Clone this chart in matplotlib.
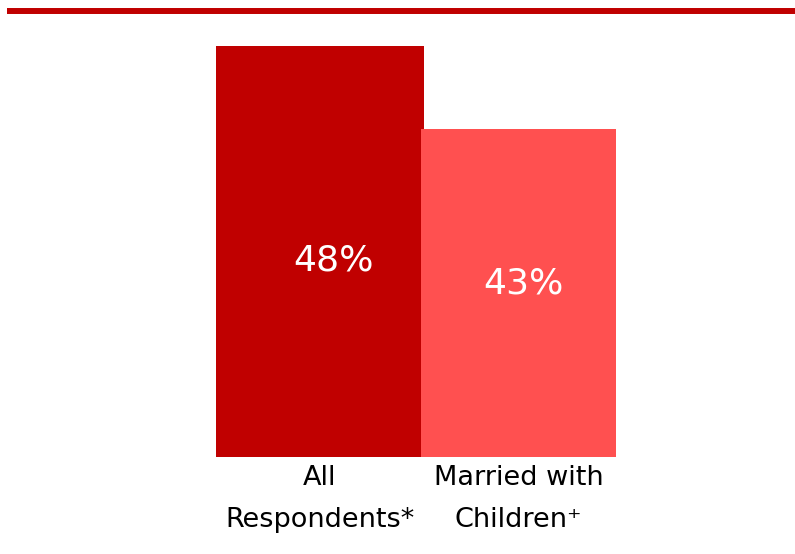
import matplotlib
matplotlib.use("Agg")
import matplotlib.pyplot as plt
from matplotlib.lines import Line2D

categories = ["All\nRespondents*", "Married with\nChildren\u207a"]
values = [48, 43]
value_labels = ["48%", "43%"]

bar_colors = ["#C00000", "#FF5050"]
bar_widths = [1.048, 0.982]
label_shift = [(13, 8.5), (5, -9)]   # (right, down) pixel nudges of the value labels

W, H = 795, 554
fig = plt.figure(figsize=(W / 100, H / 100), dpi=100)
fig.patch.set_facecolor("white")

# axes: baseline at y=457 px, top of tallest bar at y=46 px
base = 23.24
ax = fig.add_axes([216 / W, (H - 457) / H, (616 - 216) / W, (457 - 46) / H])
ax.set_xlim(-0.524, 1.491)
ax.set_ylim(base, 48)
ax.axis("off")

xs = list(range(len(values)))
for x, v, c, w in zip(xs, values, bar_colors, bar_widths):
    ax.bar(x, v - base, bottom=base, width=w, color=c, linewidth=0, zorder=2 + x)

font = dict(family="DejaVu Sans")

for x, v, lab, (dx, dy) in zip(xs, values, value_labels, label_shift):
    ax.annotate(lab, xy=(x, (v + base) / 2), xytext=(dx * 0.72, -dy * 0.72),
                textcoords="offset points", ha="center", va="center",
                color="white", fontsize=26, zorder=10, **font)

for x, cat in zip(xs, categories):
    ax.annotate(cat, xy=(x, base), xytext=(0, -6), textcoords="offset points",
                ha="center", va="top", color="black", fontsize=19.5,
                linespacing=1.8, annotation_clip=False, **font)

# red rule across the top
fig.add_artist(Line2D([7 / W, 1.0], [(H - 11) / H] * 2, color="#C00000",
                      linewidth=4.3, solid_capstyle="butt", transform=fig.transFigure))

fig.savefig("out.png", dpi=100, facecolor="white")
